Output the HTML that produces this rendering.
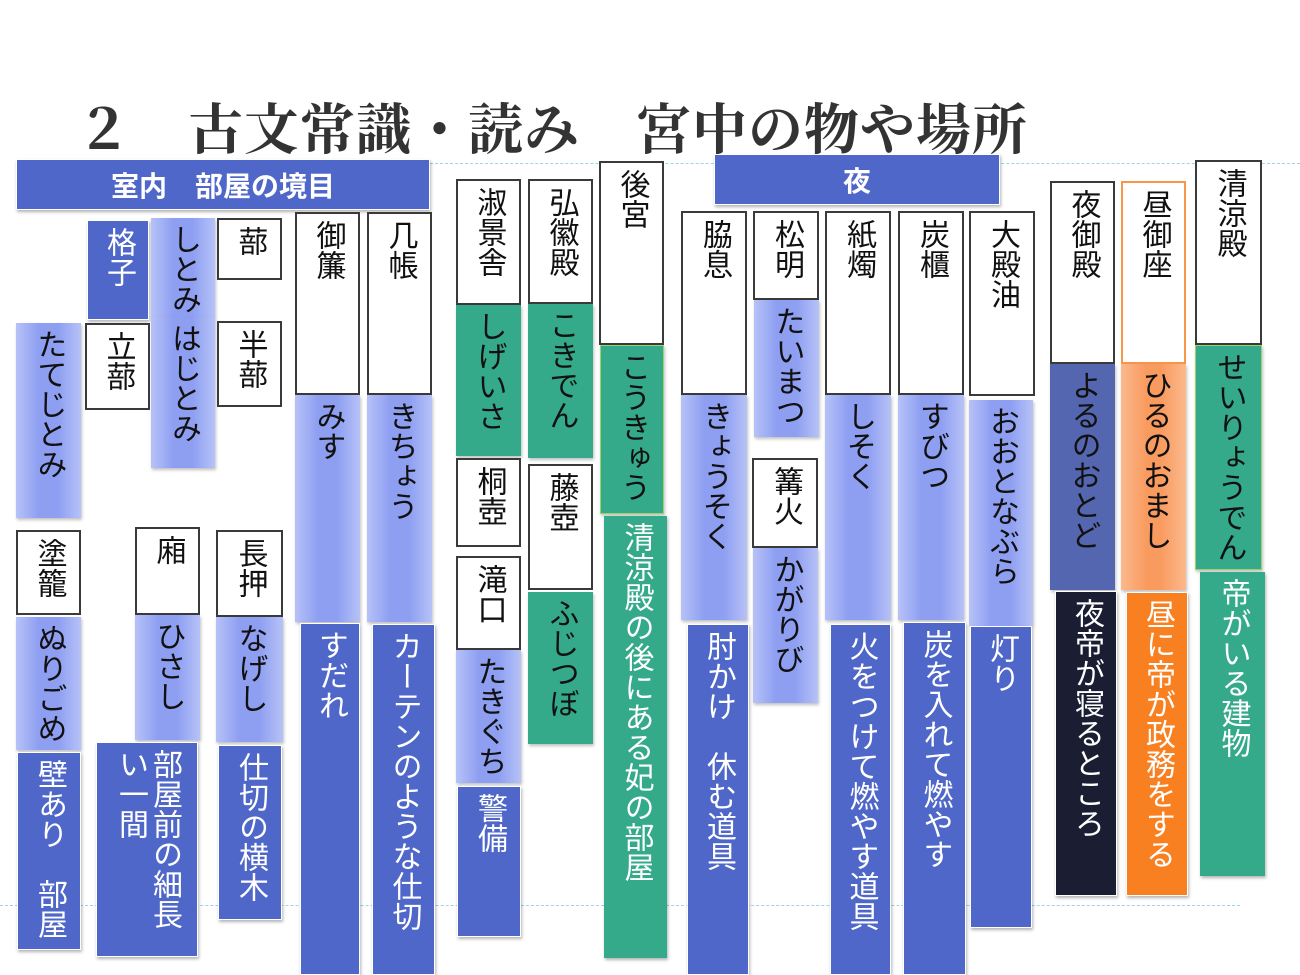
<!DOCTYPE html>
<html><head><meta charset="utf-8">
<style>
html,body{margin:0;padding:0;background:#fff;}
body{width:1300px;height:975px;position:relative;overflow:hidden;font-family:"Liberation Sans","Noto Sans CJK JP",sans-serif;}
.b{position:absolute;box-sizing:border-box;display:flex;justify-content:center;align-items:flex-start;}
.b span{writing-mode:vertical-rl;font-size:30px;line-height:34px;padding-top:6px;letter-spacing:0px;}
.w{background:#fff;border:2px solid #3a3a3a;color:#111;}
.l{background:linear-gradient(90deg,#b7c2f7 0%,#8e9ff2 35%,#8e9ff2 65%,#b7c2f7 100%);color:#111;box-shadow:1px 2px 3px rgba(0,0,0,.25);}
.d{background:#4f67c8;color:#fff;border:1px solid #fff;box-shadow:1px 2px 3px rgba(0,0,0,.3);}
.g{background:#34aa8a;color:#111;box-shadow:1px 2px 3px rgba(0,0,0,.25);}
.gw{background:#34aa8a;color:#fff;box-shadow:1px 2px 3px rgba(0,0,0,.3);}
.h{position:absolute;background:#4f67c8;color:#fff;font-weight:bold;font-size:28px;display:flex;align-items:center;justify-content:center;box-shadow:1px 2px 3px rgba(0,0,0,.3);border:1px solid #fff;box-sizing:border-box;}
.dash{position:absolute;height:0;border-top:1px dashed #9bd4ee;}
</style></head><body>
<div class="dash" style="left:430px;top:163px;width:870px;"></div>
<div class="dash" style="left:0;top:905px;width:1240px;"></div>

<div style="position:absolute;left:76px;top:86px;font-family:'Noto Serif CJK JP',serif;font-weight:bold;font-size:55px;color:#333;white-space:nowrap;letter-spacing:1px;">２　古文常識・読み　宮中の物や場所</div>

<div class="h" style="left:16px;top:159px;width:414px;height:51px;">室内　部屋の境目</div>
<div class="h" style="left:714px;top:154px;width:286px;height:51px;">夜</div>

<!-- left section -->
<div class="b d" style="left:87px;top:220px;width:62px;height:100px;"><span>格子</span></div>
<div class="b l" style="left:151px;top:218px;width:64px;height:99px;"><span>しとみ</span></div>
<div class="b l" style="left:151px;top:317px;width:64px;height:151px;"><span>はじとみ</span></div>
<div class="b w" style="left:217px;top:218px;width:65px;height:62px;"><span>蔀</span></div>
<div class="b w" style="left:217px;top:321px;width:65px;height:86px;"><span>半蔀</span></div>
<div class="b w" style="left:85px;top:323px;width:65px;height:87px;"><span>立蔀</span></div>
<div class="b l" style="left:16px;top:323px;width:65px;height:195px;"><span>たてじとみ</span></div>

<div class="b w" style="left:295px;top:212px;width:65px;height:183px;"><span>御簾</span></div>
<div class="b l" style="left:295px;top:395px;width:65px;height:227px;"><span>みす</span></div>
<div class="b d" style="left:300px;top:623px;width:60px;height:352px;"><span>すだれ</span></div>
<div class="b w" style="left:367px;top:212px;width:65px;height:183px;"><span>几帳</span></div>
<div class="b l" style="left:367px;top:395px;width:65px;height:227px;"><span>きちょう</span></div>
<div class="b d" style="left:372px;top:624px;width:63px;height:351px;"><span>カーテンのような仕切</span></div>

<div class="b w" style="left:16px;top:530px;width:65px;height:85px;"><span>塗籠</span></div>
<div class="b l" style="left:16px;top:617px;width:65px;height:133px;"><span>ぬりごめ</span></div>
<div class="b d" style="left:17px;top:752px;width:64px;height:198px;"><span>壁あり　部屋</span></div>
<div class="b w" style="left:135px;top:527px;width:65px;height:88px;"><span>廂</span></div>
<div class="b l" style="left:135px;top:615px;width:65px;height:125px;"><span>ひさし</span></div>
<div class="b d" style="left:96px;top:742px;width:102px;height:215px;"><span>部屋前の細長<br>い一間</span></div>
<div class="b w" style="left:216px;top:530px;width:67px;height:87px;"><span>長押</span></div>
<div class="b l" style="left:216px;top:617px;width:67px;height:125px;"><span>なげし</span></div>
<div class="b d" style="left:218px;top:745px;width:64px;height:175px;"><span>仕切の横木</span></div>

<!-- middle -->
<div class="b w" style="left:456px;top:179px;width:65px;height:126px;"><span>淑景舎</span></div>
<div class="b g" style="left:456px;top:305px;width:65px;height:151px;"><span>しげいさ</span></div>
<div class="b w" style="left:456px;top:458px;width:65px;height:89px;"><span>桐壺</span></div>
<div class="b w" style="left:456px;top:556px;width:65px;height:94px;"><span>滝口</span></div>
<div class="b l" style="left:456px;top:650px;width:65px;height:133px;"><span>たきぐち</span></div>
<div class="b d" style="left:457px;top:786px;width:64px;height:151px;"><span>警備</span></div>

<div class="b w" style="left:528px;top:179px;width:65px;height:125px;"><span>弘徽殿</span></div>
<div class="b g" style="left:528px;top:304px;width:65px;height:154px;"><span>こきでん</span></div>
<div class="b w" style="left:528px;top:464px;width:65px;height:126px;"><span>藤壺</span></div>
<div class="b g" style="left:528px;top:592px;width:65px;height:152px;"><span>ふじつぼ</span></div>

<div class="b w" style="left:599px;top:161px;width:65px;height:184px;"><span>後宮</span></div>
<div class="b g" style="left:600px;top:345px;width:64px;height:169px;border:1px solid #9bd36a;"><span>こうきゅう</span></div>
<div class="b gw" style="left:604px;top:516px;width:63px;height:442px;"><span>清涼殿の後にある妃の部屋</span></div>

<div class="b w" style="left:681px;top:211px;width:66px;height:184px;"><span>脇息</span></div>
<div class="b l" style="left:681px;top:395px;width:66px;height:225px;"><span>きょうそく</span></div>
<div class="b d" style="left:687px;top:624px;width:62px;height:351px;"><span>肘かけ　休む道具</span></div>

<div class="b w" style="left:753px;top:211px;width:66px;height:89px;"><span>松明</span></div>
<div class="b l" style="left:754px;top:300px;width:65px;height:137px;"><span>たいまつ</span></div>
<div class="b w" style="left:752px;top:458px;width:66px;height:90px;"><span>篝火</span></div>
<div class="b l" style="left:753px;top:548px;width:65px;height:155px;"><span>かがりび</span></div>

<div class="b w" style="left:825px;top:211px;width:66px;height:184px;"><span>紙燭</span></div>
<div class="b l" style="left:825px;top:395px;width:66px;height:225px;"><span>しそく</span></div>
<div class="b d" style="left:830px;top:624px;width:61px;height:351px;"><span>火をつけて燃やす道具</span></div>

<div class="b w" style="left:898px;top:211px;width:66px;height:184px;"><span>炭櫃</span></div>
<div class="b l" style="left:898px;top:395px;width:66px;height:225px;"><span>すびつ</span></div>
<div class="b d" style="left:903px;top:622px;width:63px;height:353px;"><span>炭を入れて燃やす</span></div>

<div class="b w" style="left:969px;top:211px;width:66px;height:185px;"><span>大殿油</span></div>
<div class="b l" style="left:969px;top:400px;width:64px;height:226px;"><span>おおとなぶら</span></div>
<div class="b d" style="left:970px;top:626px;width:62px;height:302px;"><span>灯り</span></div>

<!-- right -->
<div class="b w" style="left:1050px;top:181px;width:65px;height:183px;"><span>夜御殿</span></div>
<div class="b" style="left:1050px;top:364px;width:65px;height:226px;background:#5566b0;color:#111;box-shadow:1px 2px 3px rgba(0,0,0,.25);"><span>よるのおとど</span></div>
<div class="b" style="left:1055px;top:591px;width:62px;height:305px;background:#1b1e33;color:#fff;border:1px solid #fff;box-shadow:1px 2px 3px rgba(0,0,0,.3);"><span>夜帝が寝るところ</span></div>

<div class="b" style="left:1121px;top:181px;width:65px;height:183px;background:#fff;border:2px solid #f8964a;color:#111;"><span>昼御座</span></div>
<div class="b" style="left:1121px;top:364px;width:65px;height:226px;background:linear-gradient(90deg,#fbb98d 0%,#f99a5e 40%,#f99a5e 60%,#fbb98d 100%);color:#111;box-shadow:1px 2px 3px rgba(0,0,0,.25);"><span>ひるのおまし</span></div>
<div class="b" style="left:1126px;top:592px;width:62px;height:304px;background:#f98020;color:#fff;border:1px solid #fff;box-shadow:1px 2px 3px rgba(0,0,0,.3);"><span>昼に帝が政務をする</span></div>

<div class="b w" style="left:1195px;top:160px;width:67px;height:185px;"><span>清涼殿</span></div>
<div class="b g" style="left:1195px;top:345px;width:67px;height:225px;border:1px solid #9bd36a;"><span>せいりょうでん</span></div>
<div class="b gw" style="left:1200px;top:572px;width:65px;height:304px;"><span>帝がいる建物</span></div>
</body></html>
